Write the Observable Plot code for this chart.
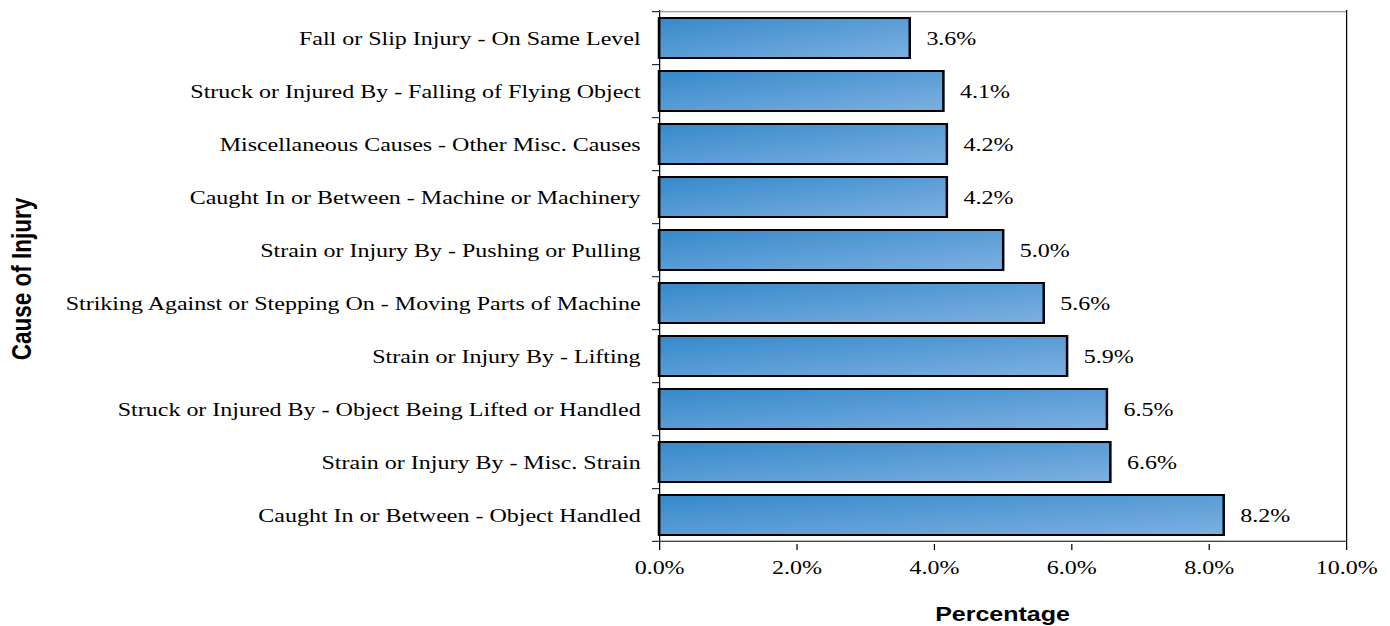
<!DOCTYPE html>
<html>
<head>
<meta charset="utf-8">
<script src="https://cdn.jsdelivr.net/npm/d3@7"></script>
<script src="https://cdn.jsdelivr.net/npm/@observablehq/plot@0.6"></script>
<style>
  html, body { margin: 0; padding: 0; background: #fff; }
  #chart { position: relative; width: 1390px; height: 626px; overflow: hidden; }
  #chart svg { display: block; }
</style>
</head>
<body>
<div id="chart"></div>
<script>
const causes = [
  "Fall or Slip Injury - On Same Level",
  "Struck or Injured By - Falling of Flying Object",
  "Miscellaneous Causes - Other Misc. Causes",
  "Caught In or Between - Machine or Machinery",
  "Strain or Injury By - Pushing or Pulling",
  "Striking Against or Stepping On - Moving Parts of Machine",
  "Strain or Injury By - Lifting",
  "Struck or Injured By - Object Being Lifted or Handled",
  "Strain or Injury By - Misc. Strain",
  "Caught In or Between - Object Handled"
];
const percents = [3.65, 4.14, 4.19, 4.19, 5.01, 5.6, 5.94, 6.52, 6.57, 8.22];
const valueLabels = ["3.6%", "4.1%", "4.2%", "4.2%", "5.0%", "5.6%", "5.9%", "6.5%", "6.6%", "8.2%"];
const xTicks = [0, 2, 4, 6, 8, 10];
const xTickLabels = ["0.0%", "2.0%", "4.0%", "6.0%", "8.0%", "10.0%"];

const data = causes.map((c, i) => ({cause: c, value: percents[i], label: valueLabels[i]}));

// The reference is horizontally stretched; draw in a narrower space and stretch the SVG.
const S = 1.25;
const W = 1390, H = 626;
const VW = W / S;
const serif = "'Liberation Serif', 'Times New Roman', serif";
const sans = "'Liberation Sans', Arial, sans-serif";
const FS = 19.2;

const chart = Plot.plot({
  width: VW,
  height: H,
  marginLeft: 659 / S,
  marginRight: 44 / S,
  marginTop: 10,
  marginBottom: 82,
  style: {fontFamily: serif, fontSize: FS + "px", color: "#000", background: "#fff", overflow: "visible"},
  x: {domain: [0, 10]},
  y: {domain: causes, paddingInner: 0.24, paddingOuter: 0.12},
  marks: [
    Plot.barX(data, {x: "value", y: "cause", fill: "url(#barGrad)", stroke: "#000", strokeWidth: 2}),
    Plot.text(data, {x: "value", y: "cause", text: "label", textAnchor: "start", dx: 16 / S, fontSize: FS, fill: "#000"}),
    Plot.ruleX([0, 10], {stroke: "#000", strokeWidth: 1}),
    Plot.axisX({ticks: xTicks, tickFormat: d => xTickLabels[xTicks.indexOf(d)], tickSize: 6, tickPadding: 10, fontSize: FS, label: null, stroke: "#000"}),
    Plot.axisY({tickSize: 0, tickPadding: 19 / S, fontSize: FS, label: null})
  ]
});

chart.setAttribute("width", W);
chart.setAttribute("height", H);
chart.setAttribute("viewBox", `0 0 ${VW} ${H}`);
chart.setAttribute("preserveAspectRatio", "none");
chart.style.width = W + "px";
chart.style.height = H + "px";
chart.style.maxWidth = "none";

const ns = "http://www.w3.org/2000/svg";
const defs = document.createElementNS(ns, "defs");
defs.innerHTML = `<linearGradient id="barGrad" x1="0" y1="0" x2="1" y2="1">
  <stop offset="0" stop-color="#3689cb"/>
  <stop offset="1" stop-color="#7db0e0"/>
</linearGradient>`;
chart.insertBefore(defs, chart.firstChild);

const xs = chart.scale("x");
const ys = chart.scale("y");
const x0 = xs.apply(0), x1 = xs.apply(10);
const yStep = ys.bandwidth / (1 - 0.24);
const bounds = causes.map(c => ys.apply(c) - yStep * 0.12);
bounds.push(ys.apply(causes[causes.length - 1]) + ys.bandwidth + yStep * 0.12);

function line(xa, ya, xb, yb, stroke) {
  const l = document.createElementNS(ns, "line");
  l.setAttribute("x1", xa); l.setAttribute("x2", xb);
  l.setAttribute("y1", ya); l.setAttribute("y2", yb);
  l.setAttribute("stroke", stroke);
  chart.appendChild(l);
}
// plot area top (gray) and bottom (black) borders
line(x0, bounds[0], x1, bounds[0], "#808080");
line(x0, bounds[bounds.length - 1], x1, bounds[bounds.length - 1], "#000");
// y ticks at category boundaries
for (const b of bounds) line(x0 - 7 / S, b, x0, b, "#000");

function addText(txt, x, y, size, rotate) {
  const t = document.createElementNS(ns, "text");
  t.textContent = txt;
  t.setAttribute("text-anchor", "middle");
  t.setAttribute("font-family", sans);
  t.setAttribute("font-weight", "bold");
  t.setAttribute("font-size", size);
  t.setAttribute("fill", "#000");
  if (rotate) t.setAttribute("transform", `translate(${x},${y}) rotate(-90)`);
  else { t.setAttribute("x", x); t.setAttribute("y", y); }
  chart.appendChild(t);
}
addText("Percentage", (x0 + x1) / 2, 621, 20, false);
addText("Cause of Injury", 31 / S, 279, 22.5, true);

document.getElementById("chart").appendChild(chart);
</script>
</body>
</html>
